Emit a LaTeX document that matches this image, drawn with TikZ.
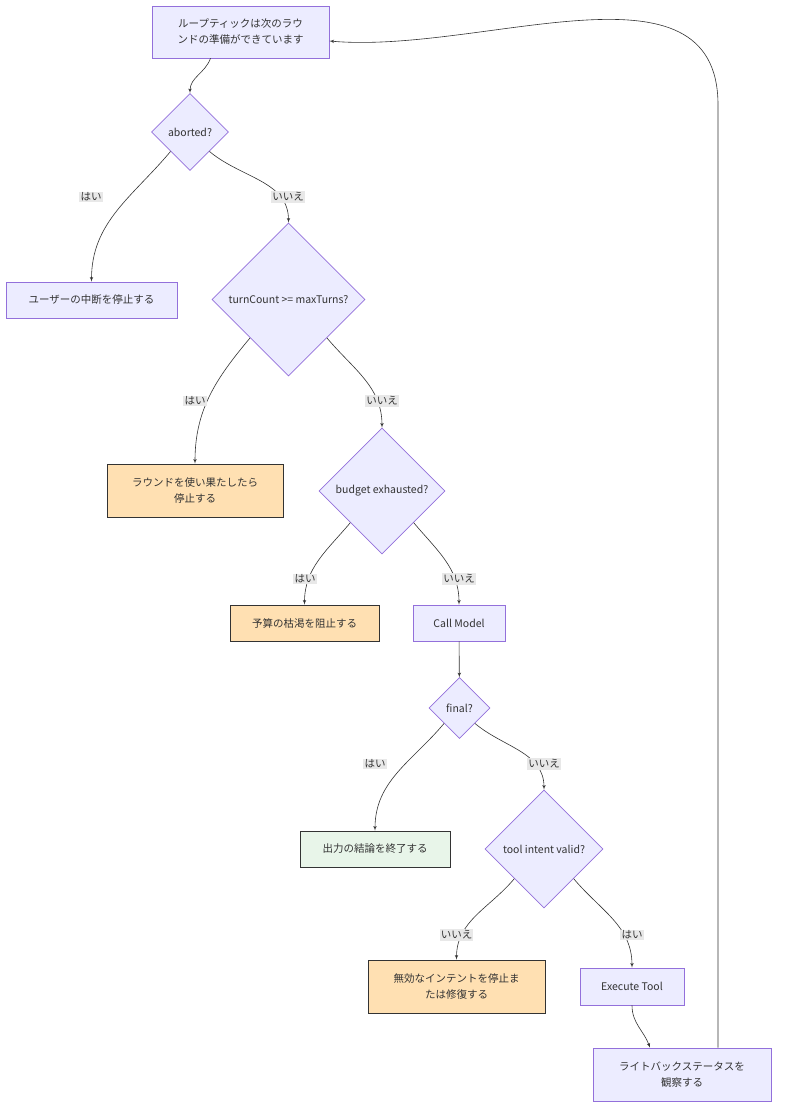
\documentclass[tikz,border=0pt]{standalone}
\usepackage{fontspec}
\setmainfont{Noto Sans CJK JP}
\usepackage{xcolor}
\usepackage{tikz}
\usetikzlibrary{arrows, arrows.meta}
\usetikzlibrary{shapes.geometric}

\definecolor{nodefill}{HTML}{ECECFF}
\definecolor{nodeline}{HTML}{9370DB}
\definecolor{warnfill}{HTML}{FFE0B2}
\definecolor{donefill}{HTML}{E8F5E9}
\definecolor{edgeline}{HTML}{333333}
\definecolor{lblfill}{HTML}{E8E8E8}

\begin{document}
\begin{tikzpicture}[x=1pt, y=1pt, >=latex',
  font=\fontsize{10.5}{16}\selectfont, text=edgeline,
  box/.style={rectangle, draw=nodeline, fill=nodefill, line width=0.7pt, align=center, inner sep=0pt},
  warn/.style={box, draw=edgeline, fill=warnfill},
  done/.style={box, draw=edgeline, fill=donefill},
  dec/.style={diamond, aspect=1, draw=nodeline, fill=nodefill, line width=0.7pt, inner sep=0pt},
  flow/.style={->, draw=edgeline, line width=0.6pt},
  lbl/.style={fill=lblfill, inner sep=1.2pt}]

  \useasboundingbox (0,0) rectangle (784,-1118);

  % nodes
  \node [box, minimum width=177, minimum height=52] (tick) at (240.5,-32) {ループティックは次のラウ\\ンドの準備ができています};
  \node [dec, minimum width=77, minimum height=77] (abrt) at (190,-132) {aborted?};
  \node [box, minimum width=171, minimum height=36] (user) at (91.5,-300) {ユーザーの中断を停止する};
  \node [dec, minimum width=153, minimum height=153] (turn) at (288.5,-299.5) {turnCount >= maxTurns?};
  \node [warn, minimum width=176, minimum height=53] (rnd) at (195,-490.5) {ラウンドを使い果たしたら\\停止する};
  \node [dec, minimum width=126, minimum height=126] (bdgt) at (382,-491) {budget exhausted?};
  \node [warn, minimum width=149, minimum height=36] (bstop) at (304.5,-623) {予算の枯渇を阻止する};
  \node [box, minimum width=92, minimum height=36] (call) at (459,-623) {Call Model};
  \node [dec, minimum width=61, minimum height=61] (fin) at (459.5,-708) {final?};
  \node [done, minimum width=150, minimum height=36] (outp) at (375,-849) {出力の結論を終了する};
  \node [dec, minimum width=118, minimum height=118] (tiv) at (544,-849) {tool intent valid?};
  \node [warn, minimum width=177, minimum height=53] (inv) at (456.5,-986.5) {無効なインテントを停止ま\\たは修復する};
  \node [box, minimum width=104, minimum height=37] (exec) at (632,-986.5) {Execute Tool};
  \node [box, minimum width=178, minimum height=53] (wb) at (682,-1074.5) {ライトバックステータスを\\観察する};

  \coordinate (bend) at (718,-105);

  % connectors
  \draw [flow] ([xshift=-30pt]tick.south) to[out=-110, in=90] (abrt.north);
  \draw [flow] (abrt.-135) to[out=-130, in=90] (user.north);
  \draw [flow] (abrt.-45) to[out=-40, in=90] (turn.north);
  \draw [flow] (turn.-135) to[out=-130, in=90] (rnd.north);
  \draw [flow] (turn.-45) to[out=-50, in=90] (bdgt.north);
  \draw [flow] (bdgt.-135) to[out=-130, in=90] (bstop.north);
  \draw [flow] (bdgt.-45) to[out=-50, in=90] (call.north);
  \draw [flow] (call) -- (fin);
  \draw [flow] (fin.-135) to[out=-130, in=90] (outp.north);
  \draw [flow] (fin.-45) to[out=-40, in=90] (tiv.north);
  \draw [flow] (tiv.-135) to[out=-130, in=90] (inv.north);
  \draw [flow] (tiv.-45) to[out=-50, in=90] (exec.north);
  \draw [flow] (exec.south) to[out=-90, in=110] ([xshift=-32pt]wb.north);
  \draw [flow] ([xshift=36pt]wb.north) -- (bend) to[out=90, in=-5] ([yshift=-9pt]tick.east);

  % edge labels
  \node [lbl] (l1) at (91,-197) {はい};
  \node [lbl] (l2) at (288,-197) {いいえ};
  \node [lbl] (l3) at (195,-401) {はい};
  \node [lbl] (l4) at (382,-401) {いいえ};
  \node [lbl] (l5) at (305,-579) {はい};
  \node [lbl] (l6) at (459,-579) {いいえ};
  \node [lbl] (l7) at (375,-764) {はい};
  \node [lbl] (l8) at (544,-764) {いいえ};
  \node [lbl] (l9) at (456.5,-935) {いいえ};
  \node [lbl] (l10) at (632,-935) {はい};

\end{tikzpicture}
\end{document}
